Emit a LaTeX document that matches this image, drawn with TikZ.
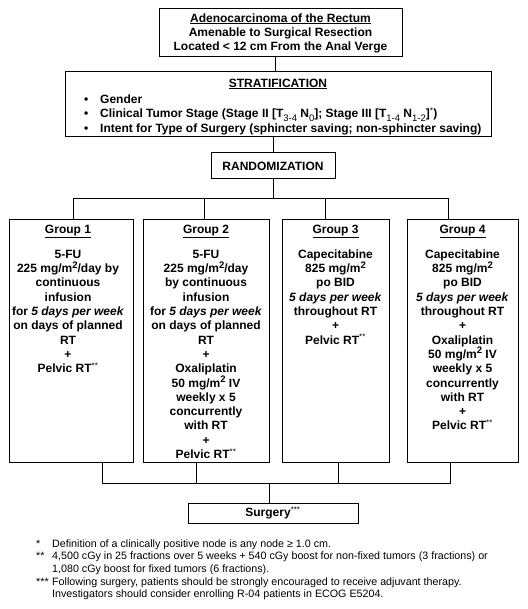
\documentclass[tikz,border=0pt]{standalone}
\usepackage{fontspec}
\setmainfont{Liberation Sans}
\newcommand{\sq}{\raisebox{0.38em}{\fontsize{9.5}{9.5}\selectfont 2}}
\newcommand{\lo}[1]{\raisebox{-0.3em}{\fontsize{9.5}{9.5}\selectfont\mdseries #1}}
\newcommand{\stars}[1]{\textsuperscript{\mdseries #1}}
\tikzset{
  box/.style={draw, line width=1pt, inner sep=0pt},
  boxtext/.style={font=\fontsize{12}{14.3}\selectfont\bfseries, align=center, inner sep=0pt},
  fntext/.style={font=\fontsize{10.7}{12.7}\selectfont, inner sep=0pt},
}

\begin{document}
\begin{tikzpicture}[x=1pt,y=1pt,yscale=-1,xscale=1]
\useasboundingbox (0,0) rectangle (527,609);

%Shape: Rectangle
\node [box, boxtext, font=\fontsize{12}{14}\selectfont\bfseries, minimum width=243, minimum height=48] (top) at (280.5,33) {\underline{Adenocarcinoma of the Rectum}\\Amenable to Surgical Resection\\Located < 12 cm From the Anal Verge};
%Shape: Rectangle
\node [box, minimum width=426, minimum height=65] (strat) at (278,104.5) {};
% Text Node
\node [boxtext] (stratttl) at (278,84) {\underline{STRATIFICATION}};
% Text Node
\node [boxtext, font=\fontsize{12}{14.5}\selectfont\bfseries, align=left, anchor=west] (stratlist) at (84,114.5) {\makebox[16pt][l]{\textbullet}Gender\\
\makebox[16pt][l]{\textbullet}Clinical Tumor Stage (Stage II [T\lo{3-4} N\lo{0}]; Stage III [T\lo{1-4} N\lo{1-2}]\stars{*})\\
\makebox[16pt][l]{\textbullet}Intent for Type of Surgery (sphincter saving; non-sphincter saving)};
%Shape: Rectangle
\node [box, boxtext, minimum width=124, minimum height=26] (rand) at (273,166) {RANDOMIZATION};

%Shape: Rectangle
\node [box, minimum width=124, minimum height=242] (g1) at (71,341) {};
\node [box, minimum width=126, minimum height=242] (g2) at (206,341) {};
\node [box, minimum width=107, minimum height=242] (g3) at (335.5,341) {};
\node [box, minimum width=111, minimum height=242] (g4) at (462.5,341) {};

% Text Node
\node [boxtext, anchor=north] (g1txt) at (68,225) {\underline{Group 1}\\[10.5pt]
5-FU\\225 mg/m\sq/day by\\continuous\\infusion\\for \textit{5 days per week}\\on days of planned\\RT\\+\\Pelvic RT\stars{**}};
% Text Node
\node [boxtext, anchor=north] (g2txt) at (206,225) {\underline{Group 2}\\[10.5pt]
5-FU\\225 mg/m\sq/day\\by continuous\\infusion\\for \textit{5 days per week}\\on days of planned\\RT\\+\\Oxaliplatin\\50 mg/m\sq{} IV\\weekly x 5\\concurrently\\with RT\\+\\Pelvic RT\stars{**}};
% Text Node
\node [boxtext, anchor=north] (g3txt) at (335.5,225) {\underline{Group 3}\\[10.5pt]
Capecitabine\\825 mg/m\sq\\po BID\\\textit{5 days per week}\\throughout RT\\+\\Pelvic RT\stars{**}};
% Text Node
\node [boxtext, anchor=north] (g4txt) at (462.5,225) {\underline{Group 4}\\[10.5pt]
Capecitabine\\825 mg/m\sq\\po BID\\\textit{5 days per week}\\throughout RT\\+\\Oxaliplatin\\50 mg/m\sq{} IV\\weekly x 5\\concurrently\\with RT\\+\\Pelvic RT\stars{**}};

%Shape: Rectangle
\node [box, boxtext, minimum width=170, minimum height=20] (surg) at (273,513) {Surgery\stars{***}};

% Text Node
\node [fntext, anchor=north west] (notes) at (36,538) {\begin{tabular}{@{}p{16pt}@{}l@{}}
{*} & Definition of a clinically positive node is any node ≥ 1.0 cm.\\
{**} & 4,500 cGy in 25 fractions over 5 weeks + 540 cGy boost for non-fixed tumors (3 fractions) or\\
{} & 1,080 cGy boost for fixed tumors (6 fractions).\\
{***} & Following surgery, patients should be strongly encouraged to receive adjuvant therapy.\\
{} & Investigators should consider enrolling R-04 patients in ECOG E5204.
\end{tabular}};

%Straight Lines
\coordinate (b1) at (73,199);
\coordinate (b2) at (204,199);
\coordinate (b3) at (325,199);
\coordinate (b4) at (448,199);
\coordinate (c0) at (269,483);
\coordinate (c1) at (102,483);
\coordinate (c2) at (196,483);
\coordinate (c3) at (338,483);
\coordinate (c4) at (450,483);
\draw [line width=1pt] ([xshift=-5pt]top.south) -- ([xshift=-5pt]top.south |- strat.north);
\draw [line width=1pt] (rand.north) -- (rand.north |- strat.south);
\draw [line width=1pt] (rand.south) -- (rand.south |- b1);
\draw [line width=1pt] (b1 |- g1.north) -- (b1) -- (b4) -- (b4 |- g4.north);
\draw [line width=1pt] (b2) -- (b2 |- g2.north);
\draw [line width=1pt] (b3) -- (b3 |- g3.north);
\draw [line width=1pt] (c1 |- g1.south) -- (c1) -- (c4) -- (c4 |- g4.south);
\draw [line width=1pt] (c2) -- (c2 |- g2.south);
\draw [line width=1pt] (c3) -- (c3 |- g3.south);
\draw [line width=1pt] (c0) -- (c0 |- surg.north);

\end{tikzpicture}
\end{document}
